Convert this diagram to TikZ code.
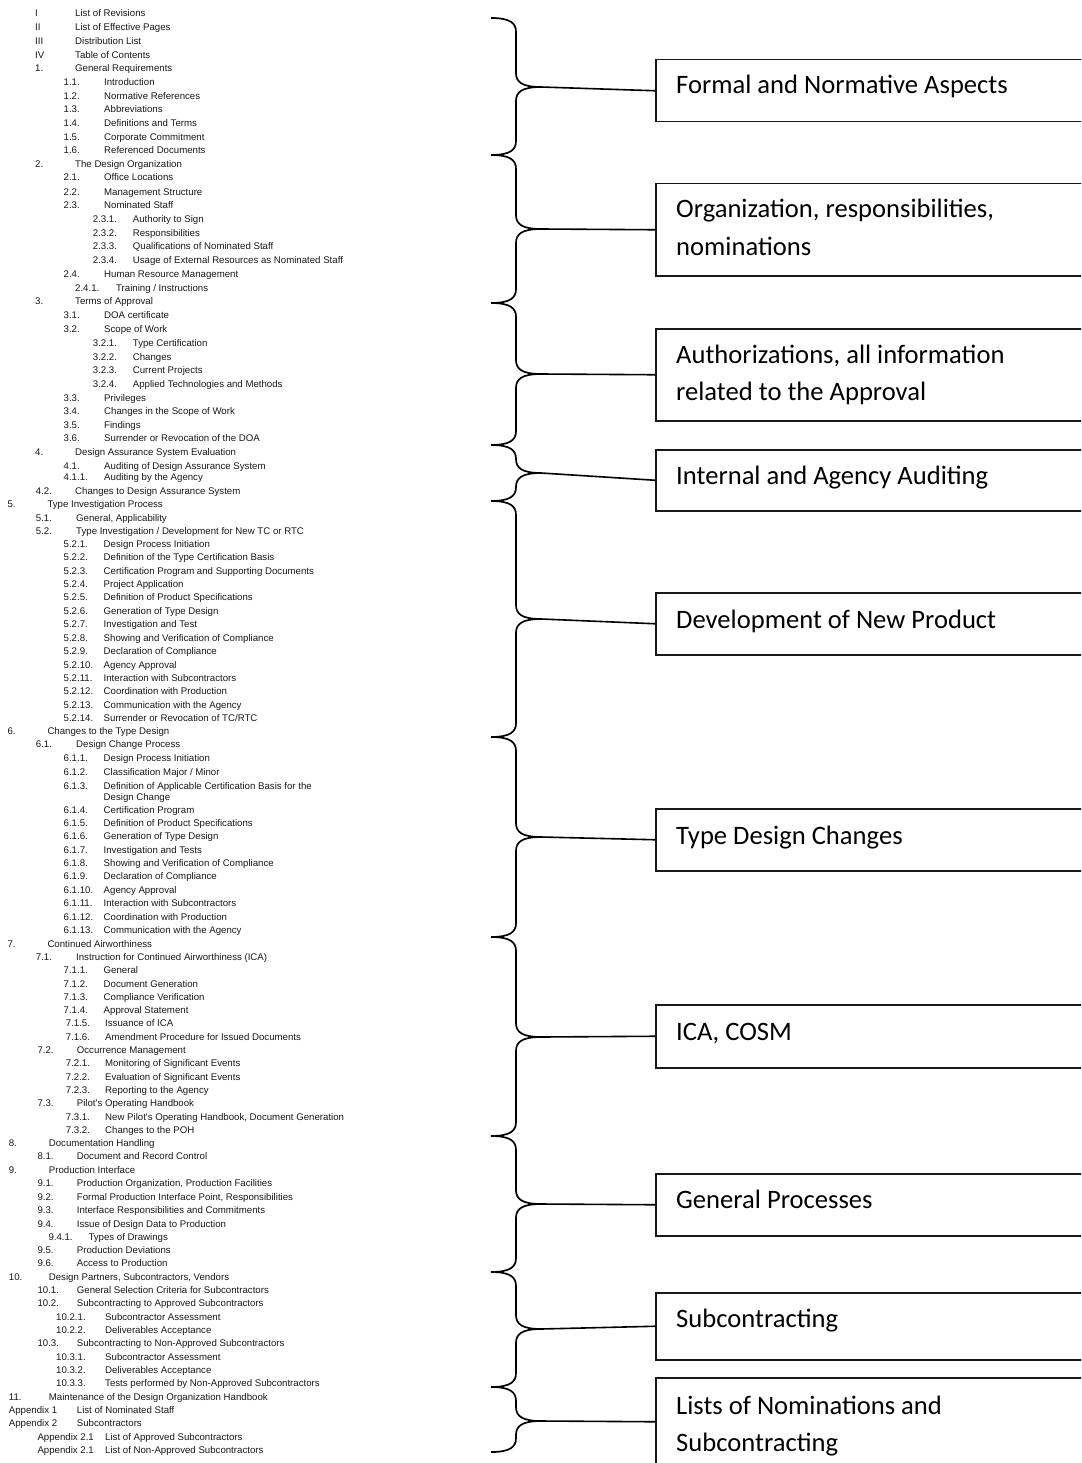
\documentclass[tikz,border=0pt]{standalone}
\usepackage{fontspec}
\setmainfont{Liberation Sans}
\newfontfamily\tocfamily{Liberation Sans}
\newfontfamily\topicfamily{Carlito}

% one line of the contents list: name, baseline-centre y, number x, number, title x, title
\newcommand{\tocrow}[6]{%
  \node[tocitem] (#1n) at (#3,#2+3.5) {#4};
  \node[tocitem] (#1t) at (#5,#2+3.5) {#6};}
\newcommand{\lvA}[4]{\tocrow{#1}{#2}{35}{#3}{75}{#4}}
\newcommand{\lvB}[4]{\tocrow{#1}{#2}{63.5}{#3}{104}{#4}}
\newcommand{\lvC}[4]{\tocrow{#1}{#2}{92.7}{#3}{132.7}{#4}}
\newcommand{\lvD}[4]{\tocrow{#1}{#2}{63.5}{#3}{103.5}{#4}}
\newcommand{\lvE}[4]{\tocrow{#1}{#2}{65.7}{#3}{105}{#4}}
\newcommand{\lvF}[4]{\tocrow{#1}{#2}{37.3}{#3}{76.7}{#4}}
\newcommand{\lvG}[4]{\tocrow{#1}{#2}{8.7}{#3}{48.7}{#4}}
\newcommand{\lvH}[4]{\tocrow{#1}{#2}{56}{#3}{105}{#4}}

% curly brace: name of its tip, top end, tip, bottom end
\newcommand{\topicbrace}[4]{%
  \draw[bracepath] (491,#2) .. controls (510,#2) and (516,#2+5) .. (516,#2+14)
    -- (516,#3-14) .. controls (516,#3-5) and (522,#3) .. (541,#3)
    .. controls (522,#3) and (516,#3+5) .. (516,#3+14)
    -- (516,#4-14) .. controls (516,#4-5) and (510,#4) .. (491,#4);
  \coordinate (#1) at (541,#3);}

\begin{document}
\begin{tikzpicture}[x=1pt,y=-1pt,
  tocitem/.style={anchor=base west, inner sep=0pt,
    font=\tocfamily\fontsize{9.65}{11}\selectfont, text=black!90},
  topicbox/.style={draw=black!90, line width=1.5pt, anchor=north west,
    minimum width=460pt, inner sep=0pt},
  topictext/.style={anchor=base west, inner sep=0pt,
    font=\topicfamily\fontsize{26.6}{37}\selectfont, text=black},
  bracepath/.style={line width=1.7pt, black},
  link/.style={line width=1.6pt, black}]

\useasboundingbox (0,0) rectangle (1081,1463);
\clip (0,0) rectangle (1081,1463);
\fill[white] (0,0) rectangle (1081,1463);

% ---------------- contents list ----------------
\lvA{r1}{13.3}{I}{List of Revisions}
\lvA{r2}{26.7}{II}{List of Effective Pages}
\lvA{r3}{40.8}{III}{Distribution List}
\lvA{r4}{54.7}{IV}{Table of Contents}
\lvA{r5}{68.5}{1.}{General Requirements}
\lvB{r6}{82}{1.1.}{Introduction}
\lvB{r7}{96}{1.2.}{Normative References}
\lvB{r8}{109.3}{1.3.}{Abbreviations}
\lvB{r9}{123.3}{1.4.}{Definitions and Terms}
\lvB{r10}{136.7}{1.5.}{Corporate Commitment}
\lvB{r11}{150.5}{1.6.}{Referenced Documents}
\lvA{r12}{164}{2.}{The Design Organization}
\lvB{r13}{177.5}{2.1.}{Office Locations}
\lvB{r14}{191.7}{2.2.}{Management Structure}
\lvB{r15}{205.5}{2.3.}{Nominated Staff}
\lvC{r16}{219.3}{2.3.1.}{Authority to Sign}
\lvC{r17}{232.8}{2.3.2.}{Responsibilities}
\lvC{r18}{246.5}{2.3.3.}{Qualifications of Nominated Staff}
\lvC{r19}{260}{2.3.4.}{Usage of External Resources as Nominated Staff}
\lvB{r20}{273.7}{2.4.}{Human Resource Management}
\tocrow{r21}{287.5}{75}{2.4.1.}{116}{Training / Instructions}
\lvA{r22}{301}{3.}{Terms of Approval}
\lvB{r23}{315}{3.1.}{DOA certificate}
\lvB{r24}{329}{3.2.}{Scope of Work}
\lvC{r25}{343}{3.2.1.}{Type Certification}
\lvC{r26}{356.7}{3.2.2.}{Changes}
\lvC{r27}{370.3}{3.2.3.}{Current Projects}
\lvC{r28}{383.5}{3.2.4.}{Applied Technologies and Methods}
\lvB{r29}{397.5}{3.3.}{Privileges}
\lvB{r30}{411}{3.4.}{Changes in the Scope of Work}
\lvB{r31}{424.8}{3.5.}{Findings}
\lvB{r32}{438.3}{3.6.}{Surrender or Revocation of the DOA}
\lvA{r33}{451.8}{4.}{Design Assurance System Evaluation}
\lvB{r34}{465.5}{4.1.}{Auditing of Design Assurance System}
\lvB{r35}{476.5}{4.1.1.}{Auditing by the Agency}
\tocrow{r36}{491}{35.7}{4.2.}{75}{Changes to Design Assurance System}
\tocrow{r37}{504}{7.3}{5.}{47.3}{Type Investigation Process}
\tocrow{r38}{517.5}{35.7}{5.1.}{76}{General, Applicability}
\tocrow{r39}{530.7}{35.7}{5.2.}{76}{Type Investigation / Development for New TC or RTC}
\lvD{r40}{544}{5.2.1.}{Design Process Initiation}
\lvD{r41}{557.3}{5.2.2.}{Definition of the Type Certification Basis}
\lvD{r42}{570.7}{5.2.3.}{Certification Program and Supporting Documents}
\lvD{r43}{584}{5.2.4.}{Project Application}
\lvD{r44}{597.3}{5.2.5.}{Definition of Product Specifications}
\lvD{r45}{610.7}{5.2.6.}{Generation of Type Design}
\lvD{r46}{624}{5.2.7.}{Investigation and Test}
\lvD{r47}{637.5}{5.2.8.}{Showing and Verification of Compliance}
\lvD{r48}{651.2}{5.2.9.}{Declaration of Compliance}
\lvD{r49}{664.7}{5.2.10.}{Agency Approval}
\lvD{r50}{678}{5.2.11.}{Interaction with Subcontractors}
\lvD{r51}{691.3}{5.2.12.}{Coordination with Production}
\lvD{r52}{704.7}{5.2.13.}{Communication with the Agency}
\lvD{r53}{718}{5.2.14.}{Surrender or Revocation of TC/RTC}
\tocrow{r54}{730.8}{7.3}{6.}{47.3}{Changes to the Type Design}
\tocrow{r55}{744.3}{35.7}{6.1.}{76}{Design Change Process}
\lvD{r56}{757.7}{6.1.1.}{Design Process Initiation}
\lvD{r57}{771.5}{6.1.2.}{Classification Major / Minor}
\lvD{r58}{785.5}{6.1.3.}{Definition of Applicable Certification Basis for the}
\node[tocitem] (r58c) at (103.5,796.5+3.5) {Design Change};
\lvD{r59}{809.7}{6.1.4.}{Certification Program}
\lvD{r60}{823}{6.1.5.}{Definition of Product Specifications}
\lvD{r61}{836.3}{6.1.6.}{Generation of Type Design}
\lvD{r62}{849.7}{6.1.7.}{Investigation and Tests}
\lvD{r63}{863}{6.1.8.}{Showing and Verification of Compliance}
\lvD{r64}{876.3}{6.1.9.}{Declaration of Compliance}
\lvD{r65}{889.7}{6.1.10.}{Agency Approval}
\lvD{r66}{903}{6.1.11.}{Interaction with Subcontractors}
\lvD{r67}{917}{6.1.12.}{Coordination with Production}
\lvD{r68}{930.3}{6.1.13.}{Communication with the Agency}
\tocrow{r69}{943.7}{7.3}{7.}{47.3}{Continued Airworthiness}
\tocrow{r70}{956.5}{35.7}{7.1.}{76}{Instruction for Continued Airworthiness (ICA)}
\lvD{r71}{970.3}{7.1.1.}{General}
\lvD{r72}{983.8}{7.1.2.}{Document Generation}
\lvD{r73}{996.8}{7.1.3.}{Compliance Verification}
\lvD{r74}{1010}{7.1.4.}{Approval Statement}
\lvE{r75}{1023.3}{7.1.5.}{Issuance of ICA}
\lvE{r76}{1036.7}{7.1.6.}{Amendment Procedure for Issued Documents}
\lvF{r77}{1050}{7.2.}{Occurrence Management}
\lvE{r78}{1063.3}{7.2.1.}{Monitoring of Significant Events}
\lvE{r79}{1076.7}{7.2.2.}{Evaluation of Significant Events}
\lvE{r80}{1090}{7.2.3.}{Reporting to the Agency}
\lvF{r81}{1103.3}{7.3.}{Pilot's Operating Handbook}
\lvE{r82}{1116.7}{7.3.1.}{New Pilot's Operating Handbook, Document Generation}
\lvE{r83}{1130}{7.3.2.}{Changes to the POH}
\lvG{r84}{1143.3}{8.}{Documentation Handling}
\lvF{r85}{1156}{8.1.}{Document and Record Control}
\lvG{r86}{1170}{9.}{Production Interface}
\lvF{r87}{1183.3}{9.1.}{Production Organization, Production Facilities}
\lvF{r88}{1196.7}{9.2.}{Formal Production Interface Point, Responsibilities}
\lvF{r89}{1210}{9.3.}{Interface Responsibilities and Commitments}
\lvF{r90}{1223.5}{9.4.}{Issue of Design Data to Production}
\tocrow{r91}{1236.7}{48.3}{9.4.1.}{88.3}{Types of Drawings}
\lvF{r92}{1250}{9.5.}{Production Deviations}
\lvF{r93}{1263.3}{9.6.}{Access to Production}
\lvG{r94}{1276.7}{10.}{Design Partners, Subcontractors, Vendors}
\lvF{r95}{1290}{10.1.}{General Selection Criteria for Subcontractors}
\lvF{r96}{1303.3}{10.2.}{Subcontracting to Approved Subcontractors}
\lvH{r97}{1317}{10.2.1.}{Subcontractor Assessment}
\lvH{r98}{1330}{10.2.2.}{Deliverables Acceptance}
\lvF{r99}{1343.3}{10.3.}{Subcontracting to Non-Approved Subcontractors}
\lvH{r100}{1356.7}{10.3.1.}{Subcontractor Assessment}
\lvH{r101}{1370}{10.3.2.}{Deliverables Acceptance}
\lvH{r102}{1383.3}{10.3.3.}{Tests performed by Non-Approved Subcontractors}
\lvG{r103}{1396.7}{11.}{Maintenance of the Design Organization Handbook}
\tocrow{r104}{1410}{8.7}{Appendix 1}{76.7}{List of Nominated Staff}
\tocrow{r105}{1422.7}{8.7}{Appendix 2}{76.7}{Subcontractors}
\tocrow{r106}{1436.7}{37.3}{Appendix 2.1}{105}{List of Approved Subcontractors}
\tocrow{r107}{1450}{37.3}{Appendix 2.1}{105}{List of Non-Approved Subcontractors}

% ---------------- braces ----------------
\topicbrace{tip1}{18}{87}{155}
\topicbrace{tip2}{155}{229}{303}
\topicbrace{tip3}{303}{374}{445}
\topicbrace{tip4}{445}{473}{501}
\topicbrace{tip5}{501}{619}{737}
\topicbrace{tip6}{737}{837}{937}
\topicbrace{tip7}{937}{1037}{1136}
\topicbrace{tip8}{1136}{1204}{1272}
\topicbrace{tip9}{1272}{1329}{1387}
\topicbrace{tip10}{1387}{1421}{1452}

% ---------------- topic boxes ----------------
\node[topicbox, minimum height=62pt] (box1) at (655,59) {};
\node[topicbox, minimum height=92pt] (box2) at (655,183) {};
\node[topicbox, minimum height=92pt] (box3) at (655,328) {};
\node[topicbox, minimum height=61pt] (box4) at (655,449) {};
\node[topicbox, minimum height=62pt] (box5) at (655,592) {};
\node[topicbox, minimum height=62pt] (box6) at (655,808) {};
\node[topicbox, minimum height=63pt] (box7) at (655,1004) {};
\node[topicbox, minimum height=62pt] (box8) at (655,1173) {};
\node[topicbox, minimum height=67pt] (box9) at (655,1292) {};
\node[topicbox, minimum height=88pt] (box10) at (655,1377) {};

\node[topictext] (lab1) at (676,94) {Formal and Normative Aspects};
\node[topictext] (lab2a) at (676,218) {Organization, responsibilities,};
\node[topictext] (lab2b) at (676,255) {nominations};
\node[topictext] (lab3a) at (676,363) {Authorizations, all information};
\node[topictext] (lab3b) at (676,400) {related to the Approval};
\node[topictext] (lab4) at (676,484) {Internal and Agency Auditing};
\node[topictext] (lab5) at (676,628) {Development of New Product};
\node[topictext] (lab6) at (676,844) {Type Design Changes};
\node[topictext] (lab7) at (676,1040) {ICA, COSM};
\node[topictext] (lab8) at (676,1208) {General Processes};
\node[topictext] (lab9) at (676,1327) {Subcontracting};
\node[topictext] (lab10a) at (676,1414) {Lists of Nominations and};
\node[topictext] (lab10b) at (676,1451) {Subcontracting};

% ---------------- connectors ----------------
\foreach \k in {1,...,10} {
  \draw[link] (tip\k) -- (box\k.west);
}
\end{tikzpicture}
\end{document}
